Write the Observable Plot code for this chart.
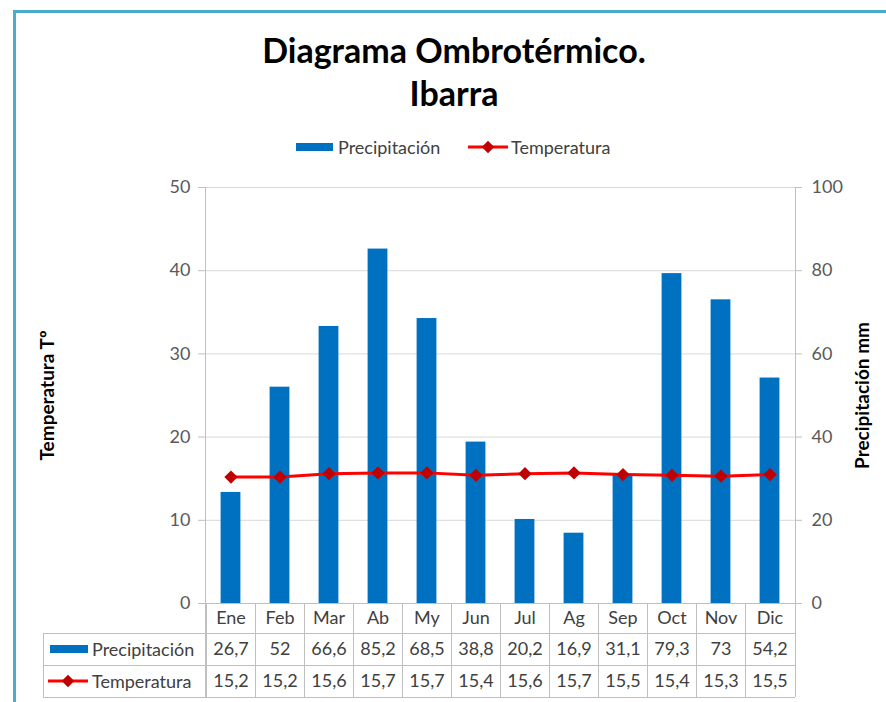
<!DOCTYPE html>
<html>
<head>
<meta charset="utf-8">
<script src="https://cdn.jsdelivr.net/npm/d3@7"></script>
<script src="https://cdn.jsdelivr.net/npm/@observablehq/plot@0.6"></script>
<style>
  html, body { margin: 0; padding: 0; width: 886px; height: 702px; overflow: hidden; background: #fff; font-family: Lato, "Open Sans", sans-serif; }
  #box { position: absolute; left: 13px; top: 10px; width: 900px; height: 720px; border: 3px solid #4BACC6; box-sizing: border-box; }
  #title { position: absolute; left: 0; width: 908px; top: 28px; text-align: center; font-weight: bold; font-size: 34px; line-height: 43px; color: #000; }
  #legend { position: absolute; top: 137px; left: 0; width: 886px; height: 20px; font-size: 18px; color: #404040; }
  #legend span { position: absolute; top: 0; line-height: 20px; }
  #chart { position: absolute; left: 0; top: 170px; }
</style>
</head>
<body>
<div id="box"></div>
<div id="title">Diagrama Ombrotérmico.<br>Ibarra</div>
<div id="legend"></div>
<div id="chart"></div>
<script>
const months = ["Ene","Feb","Mar","Ab","My","Jun","Jul","Ag","Sep","Oct","Nov","Dic"];
const precipitation = [26.7,52,66.6,85.2,68.5,38.8,20.2,16.9,31.1,79.3,73,54.2];
const temperature = [15.2,15.2,15.6,15.7,15.7,15.4,15.6,15.7,15.5,15.4,15.3,15.5];
const tempTicks = [0,10,20,30,40,50];
const precipTicks = [0,20,40,60,80,100];
const seriesNames = ["Precipitación","Temperatura"];
const axisTitles = ["Temperatura Tº","Precipitación mm"];

const BLUE = "#0070C0", RED = "#FF0000", DARKRED = "#C00000";
const GRID = "#D9D9D9", LINE = "#BFBFBF", TXT = "#404040", TICK = "#595959";
const FS = 18;
const fmt = v => String(v).replace(".", ",");

const data = months.map((m, i) => ({month: m, p: precipitation[i], t: temperature[i]}));

// Legend (HTML, above the plot)
const lg = d3.select("#legend");
const lsvg = lg.append("svg").attr("width", 886).attr("height", 20).style("position","absolute").style("left",0).style("top",0);
lsvg.append("rect").attr("x", 296).attr("y", 6).attr("width", 37).attr("height", 8).attr("fill", BLUE);
lsvg.append("line").attr("x1", 468).attr("x2", 508).attr("y1", 10).attr("y2", 10).attr("stroke", RED).attr("stroke-width", 3);
lsvg.append("path").attr("d", d3.symbol(d3.symbolDiamond2, 100)()).attr("transform", "translate(488,10)").attr("fill", DARKRED);
lg.append("span").style("left", "338px").text(seriesNames[0]);
lg.append("span").style("left", "511px").text(seriesNames[1]);

function table(index, scales, values, dims) {
  const x = scales.x;
  const top = dims.height - dims.marginBottom;
  const r1 = top + 30, r2 = top + 62, r3 = top + 94;
  const left = 43, xl = dims.marginLeft, xr = dims.width - dims.marginRight;
  const g = d3.create("svg:g");
  const gl = g.append("g").attr("stroke", LINE).attr("fill", "none").attr("shape-rendering", "crispEdges");
  months.forEach(m => {
    gl.append("line").attr("x1", x(m)).attr("x2", x(m)).attr("y1", top).attr("y2", r3);
  });
  gl.append("line").attr("x1", xl).attr("x2", xl).attr("y1", dims.marginTop).attr("y2", r3);
  gl.append("line").attr("x1", xr).attr("x2", xr).attr("y1", dims.marginTop).attr("y2", r3);
  gl.append("line").attr("x1", left).attr("x2", left).attr("y1", r1).attr("y2", r3);
  [r1, r2, r3].forEach(y => gl.append("line").attr("x1", left).attr("x2", xr).attr("y1", y).attr("y2", y));
  // row keys
  g.append("rect").attr("x", 50).attr("y", (r1 + r2) / 2 - 4).attr("width", 38).attr("height", 8).attr("fill", BLUE);
  const yk = (r2 + r3) / 2;
  g.append("line").attr("x1", 48).attr("x2", 88).attr("y1", yk).attr("y2", yk).attr("stroke", RED).attr("stroke-width", 3);
  g.append("path").attr("d", d3.symbol(d3.symbolDiamond2, 100)()).attr("transform", `translate(68,${yk})`).attr("fill", DARKRED);
  const gt = g.append("g").attr("fill", TXT).attr("font-size", FS).attr("text-anchor", "start").attr("dominant-baseline", "central");
  gt.append("text").attr("x", 92).attr("y", (r1 + r2) / 2).text(seriesNames[0]);
  gt.append("text").attr("x", 92).attr("y", yk).text(seriesNames[1]);
  return g.node();
}

const plot = Plot.plot({
  width: 886,
  height: 532,
  marginLeft: 205,
  marginRight: 91,
  marginTop: 17,
  marginBottom: 99,
  style: {fontFamily: "Lato, 'Open Sans', sans-serif", fontSize: FS + "px", color: TICK, background: "transparent", overflow: "visible"},
  x: {type: "band", domain: months, padding: 0, axis: null},
  y: {domain: [0, 50], axis: null},
  marks: [
    Plot.gridY(tempTicks, {stroke: GRID, strokeOpacity: 1}),
    Plot.barY(data, {x: "month", y: d => d.p / 2, fill: BLUE, insetLeft: 14.6, insetRight: 14.6}),
    Plot.line(data, {x: "month", y: "t", stroke: RED, strokeWidth: 3}),
    Plot.dot(data, {x: "month", y: "t", symbol: "diamond2", r: 6, fill: DARKRED, stroke: null}),
    Plot.ruleY([0], {stroke: LINE}),
    Plot.axisY(tempTicks, {anchor: "left", tickSize: 7, tickPadding: 8, stroke: LINE, fill: TICK, label: null}),
    Plot.axisY(precipTicks.map(v => v / 2), {anchor: "right", tickSize: 6, tickPadding: 10, tickFormat: d => String(d * 2), stroke: LINE, fill: TICK, label: null}),
    Plot.text([axisTitles[0]], {frameAnchor: "left", dx: -158, rotate: -90, textAnchor: "middle", lineAnchor: "middle", fontWeight: "bold", fontSize: 19, fill: "#000"}),
    Plot.text([axisTitles[1]], {frameAnchor: "right", dx: 67, rotate: -90, textAnchor: "middle", lineAnchor: "middle", fontWeight: "bold", fontSize: 19, fill: "#000"}),
    Plot.text(data, {x: "month", text: "month", frameAnchor: "bottom", lineAnchor: "middle", dy: 15, fill: TXT}),
    Plot.text(data, {x: "month", text: d => fmt(d.p), frameAnchor: "bottom", lineAnchor: "middle", dy: 46, fill: TXT}),
    Plot.text(data, {x: "month", text: d => fmt(d.t), frameAnchor: "bottom", lineAnchor: "middle", dy: 78, fill: TXT}),
    table
  ]
});
document.getElementById("chart").appendChild(plot);
</script>
</body>
</html>
